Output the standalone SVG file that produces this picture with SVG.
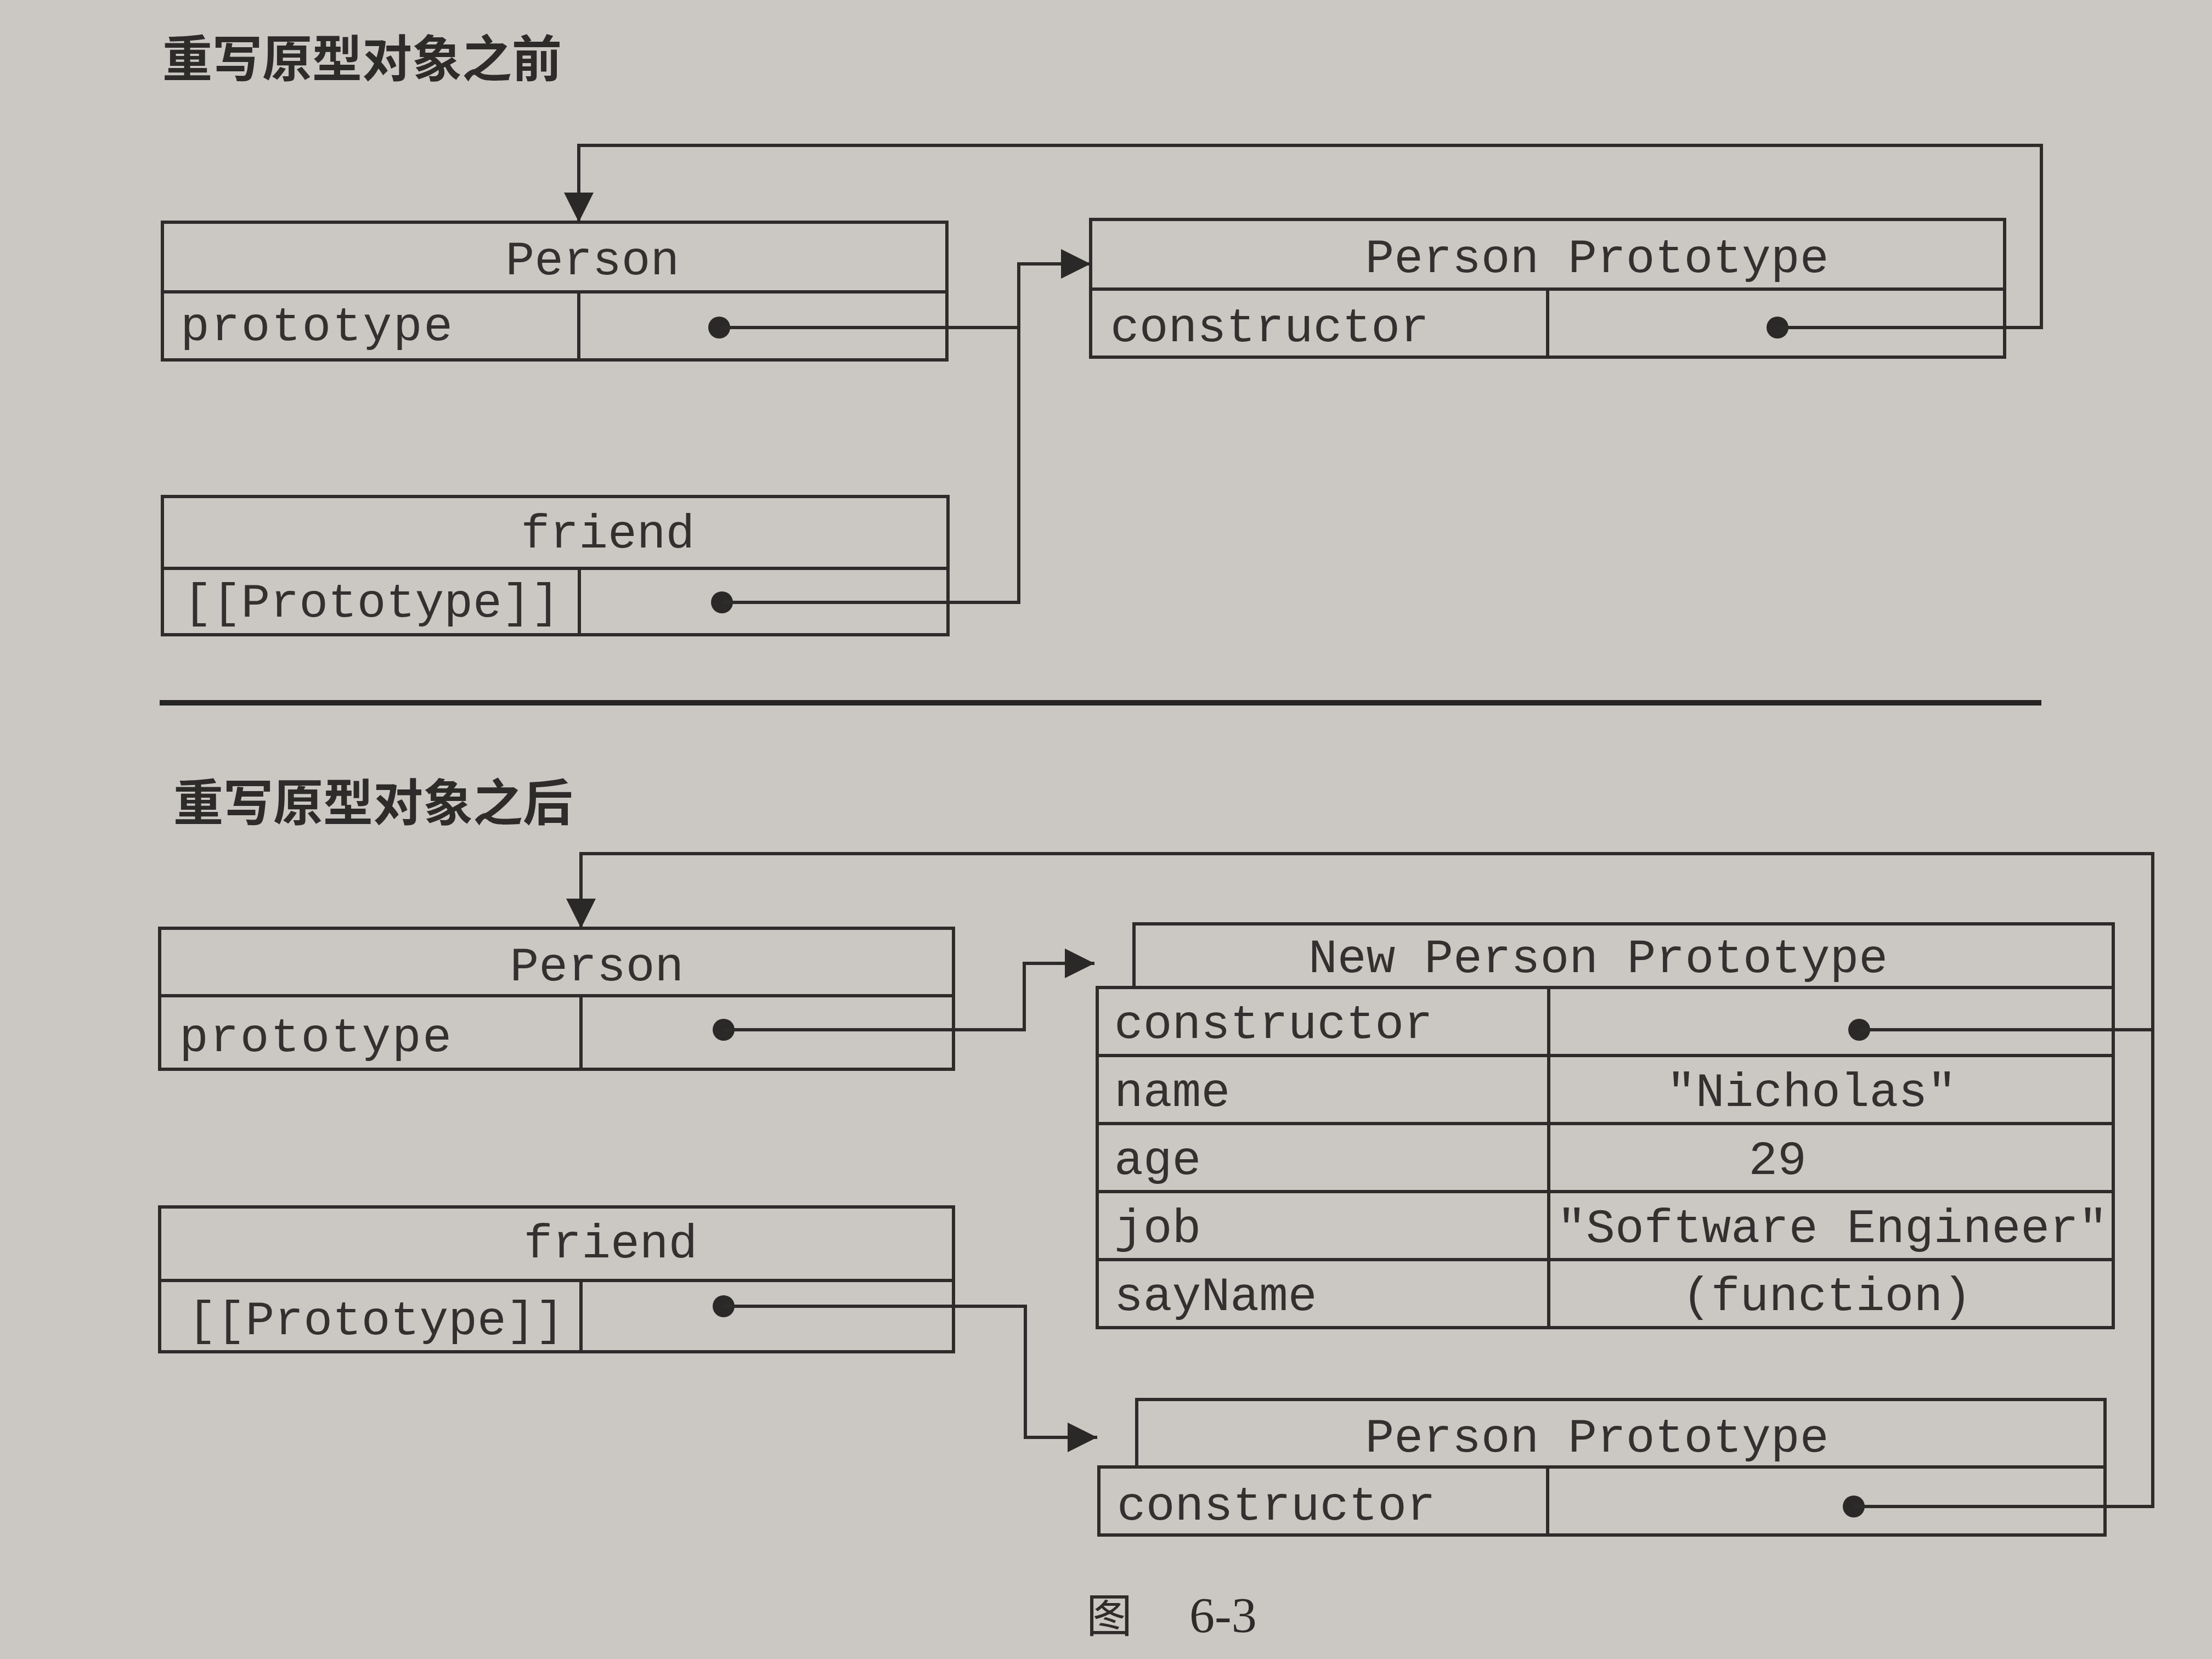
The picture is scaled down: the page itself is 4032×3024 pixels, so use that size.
<svg xmlns="http://www.w3.org/2000/svg" width="4032" height="3024" viewBox="0 0 4032 3024">
<defs>
<style>
.bg{fill:#cbc8c3}
.box{fill:none;stroke:#2e2c2b;stroke-width:6}
.ln{fill:none;stroke:#2e2c2b;stroke-width:6}
.con{fill:none;stroke:#2e2c2b;stroke-width:6}
.dot{fill:#2a2928}
.t{font-family:"Liberation Mono","DejaVu Sans Mono",monospace;font-size:88px;fill:#333130}
.c{text-anchor:middle}
.h{font-family:"Noto Sans CJK SC","Noto Sans",sans-serif;font-size:91px;font-weight:bold;fill:#2e2c2b}
.cap{font-family:"Liberation Serif","Noto Sans CJK SC",serif;font-size:92px;fill:#2e2c2b}
</style>
<marker id="arr" viewBox="0 0 10 10" refX="10" refY="5" markerWidth="54" markerHeight="54" markerUnits="userSpaceOnUse" orient="auto">
<path d="M0,0 L10,5 L0,10 z" fill="#2a2928"/>
</marker>
</defs>
<rect class="bg" x="0" y="0" width="4032" height="3024"/>

<g id="title-before"><text class="h" x="296" y="140">重写原型对象之前</text></g>

<g id="person-before">
<rect class="box" x="296" y="405" width="1430" height="251"/>
<line class="ln" x1="296" y1="532" x2="1726" y2="532"/>
<line class="ln" x1="1055" y1="532" x2="1055" y2="656"/>
<text class="t c" x="1080" y="500">Person</text>
<text class="t" x="329" y="620" textLength="496">prototype</text>
<circle class="dot" cx="1311" cy="597" r="20"/>
</g>

<g id="person-prototype-before">
<rect class="box" x="1988" y="400" width="1666" height="251"/>
<line class="ln" x1="1988" y1="527" x2="3654" y2="527"/>
<line class="ln" x1="2821" y1="527" x2="2821" y2="651"/>
<text class="t c" x="2911" y="496">Person Prototype</text>
<text class="t" x="2024" y="622">constructor</text>
<circle class="dot" cx="3240" cy="597" r="20"/>
</g>

<g id="friend-before">
<rect class="box" x="296" y="905" width="1432" height="252"/>
<line class="ln" x1="296" y1="1036" x2="1728" y2="1036"/>
<line class="ln" x1="1056" y1="1036" x2="1056" y2="1157"/>
<text class="t c" x="1108" y="998">friend</text>
<text class="t" x="334" y="1124">[[Prototype]]</text>
<circle class="dot" cx="1316" cy="1098" r="20"/>
</g>

<g id="separator"><line x1="291" y1="1281" x2="3721" y2="1281" stroke="#262524" stroke-width="10"/></g>

<g id="title-after"><text class="h" x="316" y="1496">重写原型对象之后</text></g>

<g id="person-after">
<rect class="box" x="291" y="1692" width="1447" height="257"/>
<line class="ln" x1="291" y1="1815" x2="1738" y2="1815"/>
<line class="ln" x1="1059" y1="1815" x2="1059" y2="1949"/>
<text class="t c" x="1088" y="1787">Person</text>
<text class="t" x="327" y="1916" textLength="496">prototype</text>
<circle class="dot" cx="1319" cy="1877" r="20"/>
</g>

<g id="new-person-prototype">
<path class="box" d="M2067,1800 V1684 H3852 V2420 H2000 V1800 Z"/>
<line class="ln" x1="2000" y1="1800" x2="3852" y2="1800"/>
<line class="ln" x1="2000" y1="1924" x2="3852" y2="1924"/>
<line class="ln" x1="2000" y1="2048" x2="3852" y2="2048"/>
<line class="ln" x1="2000" y1="2172" x2="3852" y2="2172"/>
<line class="ln" x1="2000" y1="2296" x2="3852" y2="2296"/>
<line class="ln" x1="2823" y1="1800" x2="2823" y2="2420"/>
<text class="t c" x="2913" y="1772">New Person Prototype</text>
<text class="t" x="2031" y="1892">constructor</text>
<text class="t" x="2031" y="2016">name</text>
<text class="t" x="2031" y="2140">age</text>
<text class="t" x="2031" y="2264">job</text>
<text class="t" x="2031" y="2388">sayName</text>
<circle class="dot" cx="3389" cy="1877" r="20"/>
<text class="t c" x="3302" y="2016">"Nicholas"</text>
<text class="t c" x="3240" y="2140">29</text>
<text class="t c" x="3340" y="2264">"Software Engineer"</text>
<text class="t c" x="3330" y="2388">(function)</text>
</g>

<g id="friend-after">
<rect class="box" x="291" y="2200" width="1447" height="264"/>
<line class="ln" x1="291" y1="2334" x2="1738" y2="2334"/>
<line class="ln" x1="1059" y1="2334" x2="1059" y2="2464"/>
<text class="t c" x="1113" y="2292">friend</text>
<text class="t" x="342" y="2432">[[Prototype]]</text>
<circle class="dot" cx="1319" cy="2381" r="20"/>
</g>

<g id="person-prototype-after">
<path class="box" d="M2072,2674 V2551 H3837 V2798 H2003 V2674 Z"/>
<line class="ln" x1="2003" y1="2674" x2="3837" y2="2674"/>
<line class="ln" x1="2821" y1="2674" x2="2821" y2="2798"/>
<text class="t c" x="2911" y="2646">Person Prototype</text>
<text class="t" x="2036" y="2770">constructor</text>
<circle class="dot" cx="3379" cy="2746" r="20"/>
</g>

<g id="connectors">
<path class="con" d="M1311,597 H1857 V481 H1988" marker-end="url(#arr)"/>
<path class="con" d="M1316,1098 H1857 V481"/>
<path class="con" d="M3240,597 H3721 V265 H1055 V405" marker-end="url(#arr)"/>
<path class="con" d="M1319,1877 H1867 V1756 H1995" marker-end="url(#arr)"/>
<path class="con" d="M1319,2381 H1869 V2620 H2000" marker-end="url(#arr)"/>
<path class="con" d="M3379,2746 H3924 V1556 H1059 V1692" marker-end="url(#arr)"/>
<path class="con" d="M3389,1877 H3924"/>
</g>

<g id="caption">
<text class="cap" x="1980" y="2975" style="font-family:'Noto Sans CJK SC',sans-serif;font-size:84px">图</text>
<text class="cap" x="2168" y="2975">6-3</text>
</g>
</svg>
